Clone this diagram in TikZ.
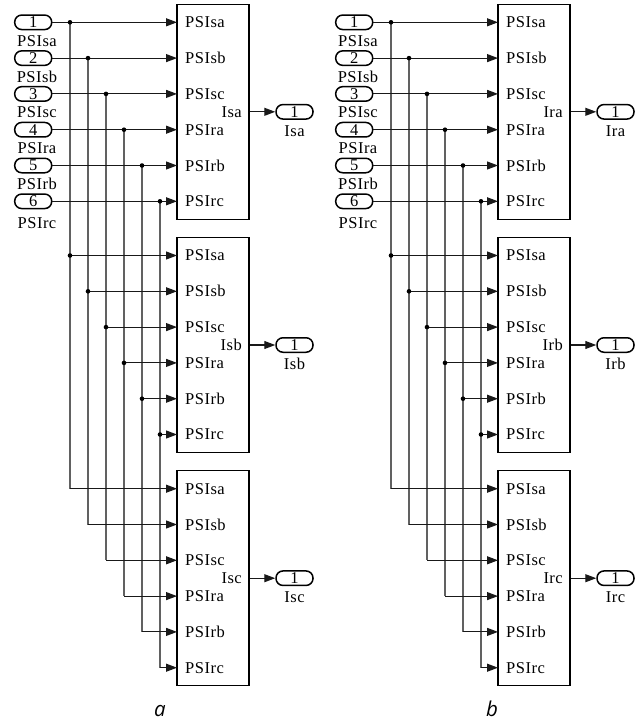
\documentclass[tikz,border=0pt]{standalone}
\usepackage{fontspec}
\setmainfont{Liberation Serif}
\newfontfamily\lblfont[LetterSpace=3]{Liberation Serif}
\newfontfamily\capfont{Open Sans}
\usetikzlibrary{arrows.meta}
\begin{document}
\begin{tikzpicture}[x=1pt,y=-1pt,
  blk/.style={draw, line width=1.5pt, minimum width=72pt, minimum height=215pt, inner sep=0pt},
  port/.style={draw, line width=1.5pt, rounded corners=7pt, minimum width=37pt, minimum height=14.5pt, inner sep=0pt, font=\lblfont\fontsize{16.5}{16.5}\selectfont},
  lbl/.style={inner sep=0pt, font=\lblfont\fontsize{16.5}{16.5}\selectfont},
  wire/.style={line width=1.1pt, black!90},
  vwire/.style={line width=1.1pt, black!62},
  arr/.style={-{Triangle[length=11pt,width=8pt]}},
  jdot/.style={circle, fill=black, inner sep=0pt, minimum size=4.6pt},
  captxt/.style={inner sep=0pt, font=\capfont\itshape\fontsize{20.5}{20.5}\selectfont}
]
\useasboundingbox (0,0) rectangle (638,721);
\foreach \dg/\dx/\ch in {a/0/s, b/321/r} {
 \begin{scope}[xshift=\dx pt]
  % blocks
  \foreach \i/\suf in {0/a,1/b,2/c} {
    \pgfmathsetmacro\Tt{4.3+233.2*\i}
    \node[blk] (\dg-B\i) at (213,\Tt+107.5) {};
    \foreach \nm [count=\j from 0] in {PSIsa,PSIsb,PSIsc,PSIra,PSIrb,PSIrc} {
      \pgfmathsetmacro\Yy{\Tt+18+35.8*\j}
      \coordinate (\dg-in-\i-\j) at (177,\Yy);
      \node[lbl, anchor=west] (\dg-t-\i-\j) at (185,\Yy) {\nm};
    }
    \node[lbl, anchor=east] (\dg-ot-\i) at (242,\Tt+107.5) {I\ch\suf};
    \node[port] (\dg-out-\i) at (294.5,\Tt+107.5) {1};
    \node[lbl] (\dg-ol-\i) at (294.5,\Tt+126.5) {I\ch\suf};
    \draw[wire,arr] (\dg-B\i) -- (\dg-out-\i);
  }
  % inputs and distribution
  \foreach \nm/\n [count=\j from 0] in {PSIsa/1,PSIsb/2,PSIsc/3,PSIra/4,PSIrb/5,PSIrc/6} {
    \pgfmathsetmacro\Ya{4.3+18+35.8*\j}
    \pgfmathsetmacro\Yb{4.3+233.2+18+35.8*\j}
    \pgfmathsetmacro\Yc{4.3+466.4+18+35.8*\j}
    \pgfmathsetmacro\Xx{70+18*\j}
    \pgfmathsetmacro\off{\j==5 ? 21.7 : 18.4}
    \node[port] (\dg-p\j) at (33.2,\Ya) {\n};
    \node[lbl] (\dg-pl\j) at (37,\Ya+\off) {\nm};
    \coordinate (\dg-j1-\j) at (\Xx,\Ya);
    \coordinate (\dg-j2-\j) at (\Xx,\Yb);
    \coordinate (\dg-j3-\j) at (\Xx,\Yc);
    \draw[vwire] (\dg-j1-\j) -- (\dg-j3-\j);
  }
  \foreach \j in {0,...,5} {
    \draw[wire,arr] (\dg-p\j) -- (\dg-in-0-\j);
    \draw[wire,arr] (\dg-j2-\j) -- (\dg-in-1-\j);
    \draw[wire,arr] (\dg-j3-\j) -- (\dg-in-2-\j);
    \node[jdot] (\dg-d1-\j) at (\dg-j1-\j) {};
    \node[jdot] (\dg-d2-\j) at (\dg-j2-\j) {};
  }
 \end{scope}
}
\node[captxt, anchor=base] (capa) at (160,716.5) {a};
\node[captxt, anchor=base] (capb) at (492,716) {b};
\end{tikzpicture}
\end{document}
